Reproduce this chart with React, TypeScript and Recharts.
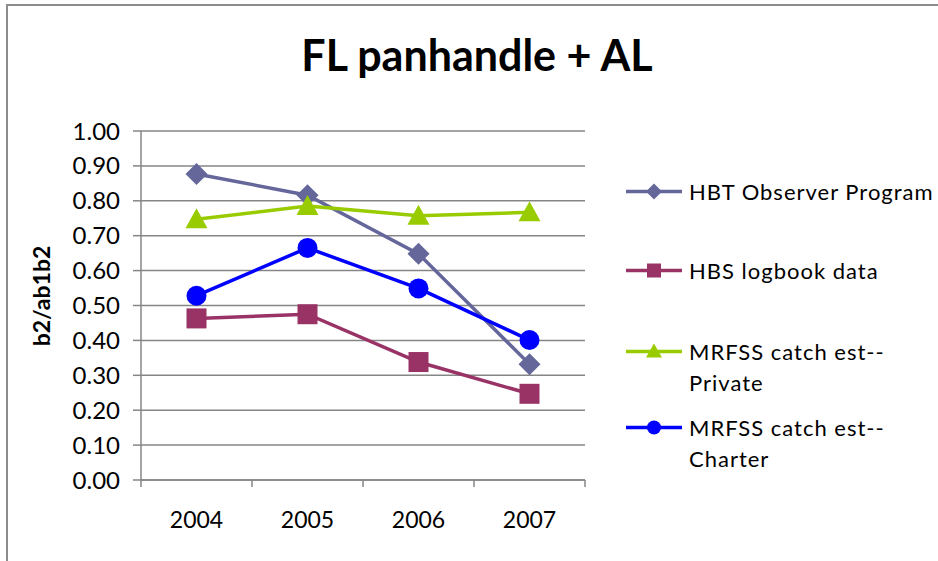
import { LineChart, Line, XAxis, YAxis, CartesianGrid } from "recharts"

const years = [2004, 2005, 2006, 2007]
const hbtObserver = [0.877, 0.816, 0.648, 0.332]
const hbsLogbook = [0.463, 0.475, 0.338, 0.247]
const mrfssPrivate = [0.747, 0.785, 0.757, 0.767]
const mrfssCharter = [0.528, 0.665, 0.549, 0.401]
const yTicks = [0, 0.1, 0.2, 0.3, 0.4, 0.5, 0.6, 0.7, 0.8, 0.9, 1.0]

const series = [
  { key: "hbt", name: ["HBT Observer Program"], values: hbtObserver, color: "#65679b", shape: "diamond" },
  { key: "hbs", name: ["HBS logbook data"], values: hbsLogbook, color: "#993366", shape: "square" },
  { key: "priv", name: ["MRFSS catch est--", "Private"], values: mrfssPrivate, color: "#99cc00", shape: "triangle" },
  { key: "charter", name: ["MRFSS catch est--", "Charter"], values: mrfssCharter, color: "#0000ff", shape: "circle" },
]

const data = years.map((year, i) => {
  const row: Record<string, number> = { year }
  series.forEach((s) => (row[s.key] = s.values[i]))
  return row
})

const FONT = "Lato, 'Open Sans', sans-serif"
const GRID = "#868686"
const PLOT_W = 444
const HALF_STEP = PLOT_W / years.length / 2

function Marker({ shape, cx, cy, color, r }: { shape: string; cx: number; cy: number; color: string; r: number }) {
  if (shape === "diamond")
    return <polygon points={`${cx},${cy - r - 1} ${cx + r + 1},${cy} ${cx},${cy + r + 1} ${cx - r - 1},${cy}`} fill={color} />
  if (shape === "square") return <rect x={cx - r} y={cy - r} width={r * 2} height={r * 2} fill={color} />
  if (shape === "triangle")
    return <polygon points={`${cx},${cy - r - 1} ${cx + r + 1},${cy + r - 1} ${cx - r - 1},${cy + r - 1}`} fill={color} />
  return <circle cx={cx} cy={cy} r={r} fill={color} />
}

function YearTick(props: any) {
  const { x, y, payload, index } = props
  const last = index === years.length - 1
  return (
    <g>
      <line x1={x - HALF_STEP} x2={x - HALF_STEP} y1={y} y2={y + 7} stroke={GRID} strokeWidth={1.5} />
      {last && <line x1={x + HALF_STEP} x2={x + HALF_STEP} y1={y} y2={y + 7} stroke={GRID} strokeWidth={1.5} />}
      <text x={x} y={y + 48} textAnchor="middle" fontSize={23} fill="#000" fontFamily={FONT}>
        {payload.value}
      </text>
    </g>
  )
}

const legendTops = [191, 270, 351, 427]

export default function App() {
  return (
    <div style={{ position: "absolute", left: 0, top: 0, width: 938, height: 561, background: "#fff", overflow: "hidden" }}>
      <div style={{ position: "absolute", left: 6, top: 4, width: 940, height: 570, borderTop: "2px solid #8c8c8c", borderLeft: "2px solid #8c8c8c" }} />
      <div style={{ position: "absolute", left: 0, width: 954, top: 29, textAlign: "center", fontFamily: FONT, fontWeight: 700, fontSize: 43, color: "#000" }}>
        FL panhandle + AL
      </div>
      <div
        style={{
          position: "absolute",
          left: 41,
          top: 296,
          transform: "translate(-50%, -50%) rotate(-90deg)",
          fontFamily: FONT,
          fontWeight: 700,
          fontSize: 23,
          whiteSpace: "nowrap",
          color: "#000",
        }}
      >
        b2/ab1b2
      </div>
      <LineChart width={938} height={561} data={data} margin={{ top: 131, right: 353, bottom: 31, left: 81 }} style={{ position: "absolute", left: 0, top: 0 }}>
        <CartesianGrid vertical={false} stroke={GRID} strokeWidth={1.5} />
        <XAxis
          dataKey="year"
          type="number"
          domain={[2003.5, 2007.5]}
          ticks={years}
          height={50}
          tickSize={0}
          tickMargin={0}
          tickLine={false}
          axisLine={{ stroke: GRID, strokeWidth: 1.5 }}
          tick={<YearTick />}
          interval={0}
        />
        <YAxis
          domain={[0, 1]}
          ticks={yTicks}
          width={60}
          tickSize={8}
          tickMargin={13}
          interval={0}
          tickFormatter={(v: number) => v.toFixed(2)}
          tick={{ fontSize: 24, fill: "#000", fontFamily: FONT }}
          tickLine={{ stroke: GRID, strokeWidth: 1.5 }}
          axisLine={{ stroke: GRID, strokeWidth: 1.5 }}
        />
        {series.map((s) => (
          <Line
            key={s.key}
            dataKey={s.key}
            stroke={s.color}
            strokeWidth={3.5}
            isAnimationActive={false}
            dot={(p: any) => <Marker key={`${s.key}-${p.index}`} shape={s.shape} cx={p.cx} cy={p.cy} color={s.color} r={10} />}
            activeDot={false}
          />
        ))}
      </LineChart>
      {series.map((s, i) => (
        <div key={s.key} style={{ position: "absolute", left: 626, top: legendTops[i] - 15.5, display: "flex", alignItems: "flex-start" }}>
          <svg width={56} height={31} style={{ flex: "none" }}>
            <line x1={0} x2={56} y1={15.5} y2={15.5} stroke={s.color} strokeWidth={3.5} />
            <Marker shape={s.shape} cx={28} cy={15.5} color={s.color} r={7} />
          </svg>
          <div style={{ marginLeft: 7, fontFamily: FONT, fontSize: 22, letterSpacing: 1, lineHeight: "31px", color: "#000", whiteSpace: "nowrap" }}>
            {s.name.map((l) => (
              <div key={l}>{l}</div>
            ))}
          </div>
        </div>
      ))}
    </div>
  )
}
